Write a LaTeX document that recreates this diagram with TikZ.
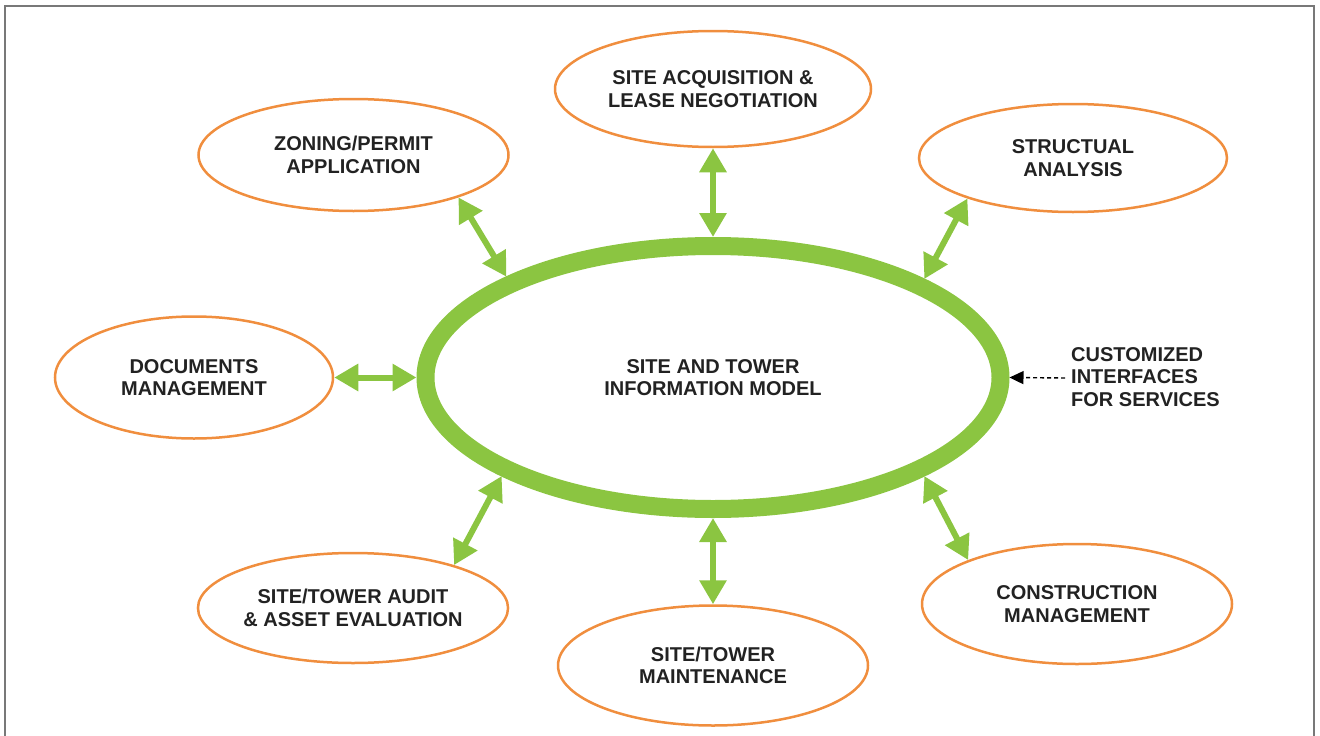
\documentclass[tikz,border=0pt]{standalone}
\usepackage{fontspec}
\setmainfont{Liberation Sans}
\usetikzlibrary{shapes.geometric,arrows.meta}
\definecolor{ringgreen}{RGB}{139,197,65}
\definecolor{satorange}{RGB}{240,142,62}
\definecolor{txtgray}{RGB}{34,34,34}
\definecolor{framegray}{RGB}{120,120,120}
\tikzset{
  sat/.style={ellipse, draw=satorange, line width=2.5pt, outer sep=1.25pt, inner sep=0pt,
    align=center, text=txtgray, font=\bfseries\fontsize{20}{22.5}\selectfont},
  hub/.style={ellipse, draw=ringgreen, line width=18pt, outer sep=9pt, inner sep=0pt,
    minimum width=575pt, minimum height=263pt, align=center, text=txtgray,
    font=\bfseries\fontsize{20}{22.5}\selectfont},
  link/.style={draw=ringgreen, line width=6pt,
    {Triangle[length=24pt,width=26pt]}-{Triangle[length=24pt,width=26pt]}},
  note/.style={align=left, text=txtgray, inner sep=0pt, anchor=west,
    font=\bfseries\fontsize{20}{22.5}\selectfont},
  pointer/.style={draw=black, line width=1.4pt, dash pattern=on 4pt off 3pt,
    -{Triangle[length=14pt,width=13pt]}}
}
\begin{document}
\begin{tikzpicture}[x=1pt,y=-1pt]
\useasboundingbox (0,0) rectangle (1320,736);
\draw[framegray, line width=2pt] (5,736) -- (5,6) -- (1314,6) -- (1314,736);

\node[hub] (main) at (713,377.5) {SITE AND TOWER\\INFORMATION MODEL};

\node[sat, minimum width=316pt, minimum height=116pt] (acq) at (713,89) {SITE ACQUISITION \&\\LEASE NEGOTIATION};
\node[sat, minimum width=310pt, minimum height=112pt] (zoning) at (353.5,155) {ZONING/PERMIT\\APPLICATION};
\node[sat, minimum width=308pt, minimum height=108pt] (struct) at (1073,158) {STRUCTUAL\\ANALYSIS};
\node[sat, minimum width=278pt, minimum height=122pt] (docs) at (194,377.5) {DOCUMENTS\\MANAGEMENT};
\node[sat, minimum width=308pt, minimum height=110pt] (audit) at (353,608) {SITE/TOWER AUDIT\\\& ASSET EVALUATION};
\node[sat, minimum width=310pt, minimum height=120pt] (maint) at (713,665.5) {SITE/TOWER\\MAINTENANCE};
\node[sat, minimum width=310pt, minimum height=120pt] (constr) at (1077,604) {CONSTRUCTION\\MANAGEMENT};

\draw[link] (acq.south) -- (main.north);
\draw[link] (zoning.-22) -- (main.154.6);
\draw[link] (struct.-159.7) -- (main.25.4);
\draw[link] (docs.east) -- (main.west);
\draw[link] (audit.23) -- (main.205.4);
\draw[link] (maint.north) -- (main.south);
\draw[link] (constr.158.2) -- (main.-25.7);

\node[note] (custom) at (1071,377) {CUSTOMIZED\\INTERFACES\\FOR SERVICES};
\coordinate (customstart) at (1065,378);
\draw[pointer] (customstart) -- (main.east);
\end{tikzpicture}
\end{document}
